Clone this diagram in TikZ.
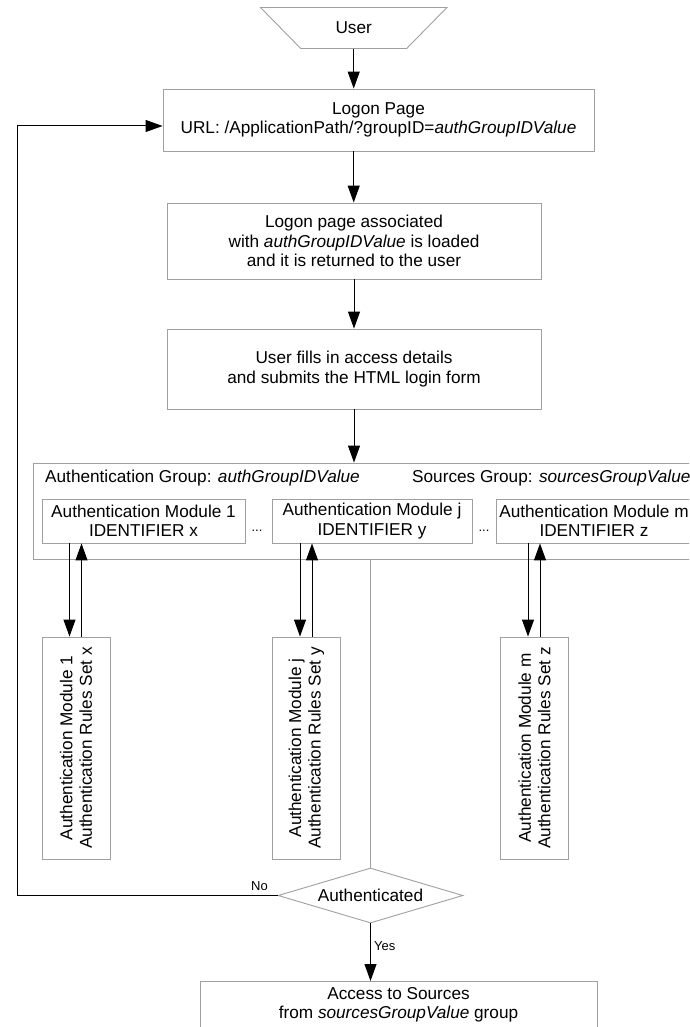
\documentclass[tikz,border=0pt]{standalone}
\usepackage{fontspec}
\setmainfont{Liberation Sans}
\usetikzlibrary{shapes.geometric,arrows.meta,calc}
\begin{document}
\begin{tikzpicture}[x=1pt,y=-1pt,
  box/.style={draw=boxgray, line width=0.9pt, align=center, inner sep=0pt,
    font=\fontsize{17.2}{19.5}\selectfont},
  arr/.style={draw=black, line width=1pt, -{Triangle[length=17pt,width=12pt]}},
  lbl/.style={font=\fontsize{17.2}{19.5}\selectfont, inner sep=0pt},
  small/.style={font=\fontsize{13}{15}\selectfont, inner sep=0pt},
  rotbox/.style={box, minimum width=222pt, minimum height=68pt, rotate=90},
]
\definecolor{boxgray}{HTML}{A0A0A0}
\clip (0,0) rectangle (689,1027);
\fill[white] (0,0) rectangle (689,1027);

% User trapezium
\node[draw=boxgray, line width=0.9pt, trapezium, trapezium stretches=true,
  trapezium angle=41, minimum width=187pt, minimum height=41pt,
  shape border rotate=180, inner sep=0pt,
  font=\fontsize{17.2}{19.5}\selectfont] (user) at (353.7,28) {User};

\node[box, minimum width=431pt, minimum height=62pt] (logon) at (378.5,120)
  {Logon Page\\URL: /ApplicationPath/?groupID=\textit{authGroupIDValue}};

\node[box, minimum width=374pt, minimum height=76pt] (load) at (354,241)
  {Logon page associated\\with \textit{authGroupIDValue} is loaded\\and it is returned to the user};

\node[box, minimum width=374pt, minimum height=80pt] (fill) at (354,369)
  {User fills in access details\\and submits the HTML login form};

% Group box
\node[box, minimum width=680pt, minimum height=96pt] (grp) at (373,511) {};
\node[lbl, anchor=west] (grplbl) at (45,478) {Authentication Group: \textit{authGroupIDValue}};
\node[lbl, anchor=west] (srclbl) at (412,478) {Sources Group: \textit{sourcesGroupValue}};

\node[box, minimum width=203pt, minimum height=44pt] (mod1) at (143.5,521)
  {Authentication Module 1\\IDENTIFIER x};
\node[box, minimum width=200pt, minimum height=44pt] (modj) at (372,521)
  {Authentication Module j\\IDENTIFIER y};
\node[box, minimum width=196pt, minimum height=44pt] (modm) at (594,521)
  {Authentication Module m\\IDENTIFIER z};
\node[small] (dots1) at (257,531) {...};
\node[small] (dots2) at (484,531) {...};

% Rules boxes
\node[rotbox] (r1) at (76,748) {Authentication Module 1\\Authentication Rules Set x};
\node[rotbox] (rj) at (306.5,748) {Authentication Module j\\Authentication Rules Set y};
\node[rotbox] (rm) at (534.5,748) {Authentication Module m\\Authentication Rules Set z};

% Decision
\node[draw=boxgray, line width=0.9pt, diamond, aspect=3.36, minimum width=185pt,
  minimum height=55pt, inner sep=0pt, font=\fontsize{17.2}{19.5}\selectfont]
  (dec) at (370.5,895.5) {Authenticated};

\node[box, minimum width=397pt, minimum height=70pt, anchor=north] (acc) at (398.5,981)
  {};
\node[lbl, align=center] (acctxt) at (398.5,1005)
  {Access to Sources\\from \textit{sourcesGroupValue} group};

% Main arrows
\draw[arr] (user.south) -- (user.south |- logon.north);
\draw[arr] (user.south |- logon.south) -- (user.south |- load.north);
\draw[arr] (load.south) -- (load.north |- fill.north);
\draw[arr] (fill.south) -- (fill.south |- grp.north);

% Module <-> rules
\foreach \m/\r in {mod1/r1, modj/rj, modm/rm}{
  \draw[arr] ([xshift=-6.5pt]\r.east |- \m.south) -- ([xshift=-6.5pt]\r.east);
  \draw[arr] ([xshift=5.5pt]\r.east) -- ([xshift=5.5pt]\r.east |- \m.south);
}

% Gray connector to decision
\draw[draw=boxgray, line width=0.9pt] (dec.north |- grp.south) -- (dec.north);

% No loop
\coordinate (lc) at (17,126);
\draw[arr] (dec.west) -| (lc) -- (lc -| logon.west);
\node[small, anchor=south east] (nolbl) at (268,891) {No};

% Yes
\draw[arr] (dec.south) -- (dec.south |- acc.north);
\node[small, anchor=west] (yeslbl) at (374,946) {Yes};
\end{tikzpicture}
\end{document}
